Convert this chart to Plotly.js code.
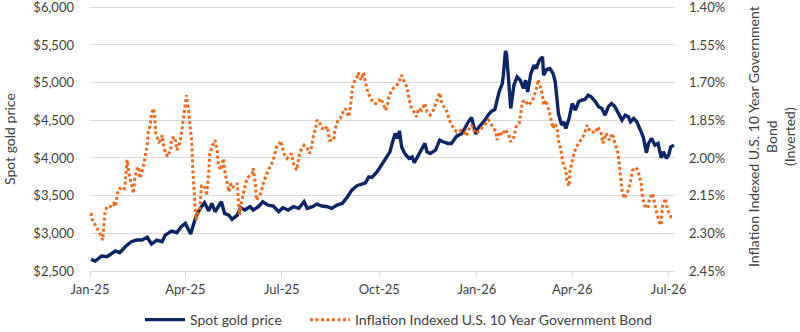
<!DOCTYPE html>
<html>
<head>
<meta charset="utf-8">
<script src="https://cdn.plot.ly/plotly-3.0.1.min.js"></script>
<style>
  html, body { margin: 0; padding: 0; background: #ffffff; }
  #chart { width: 800px; height: 332px; }
</style>
</head>
<body>
<div id="chart"></div>
<script>
// Spot gold price, USD per ounce
const goldDates = [
  '2025-01-02','2025-01-06','2025-01-12','2025-01-17','2025-01-25','2025-01-29','2025-02-04','2025-02-09',
  '2025-02-14','2025-02-19','2025-02-24','2025-02-28','2025-03-05','2025-03-10','2025-03-13','2025-03-19',
  '2025-03-24','2025-03-28','2025-04-01','2025-04-03','2025-04-06','2025-04-08','2025-04-11','2025-04-15',
  '2025-04-19','2025-04-23','2025-04-26','2025-04-29','2025-05-02','2025-05-05','2025-05-08','2025-05-12',
  '2025-05-15','2025-05-20','2025-05-23','2025-05-27','2025-06-01','2025-06-04','2025-06-09','2025-06-13',
  '2025-06-18','2025-06-23','2025-06-28','2025-07-02','2025-07-07','2025-07-12','2025-07-17','2025-07-22',
  '2025-07-25','2025-07-30','2025-08-03','2025-08-08','2025-08-13','2025-08-17','2025-08-22','2025-08-27',
  '2025-09-01','2025-09-05','2025-09-10','2025-09-14','2025-09-18','2025-09-21','2025-09-24','2025-09-29',
  '2025-10-03','2025-10-08','2025-10-11','2025-10-14','2025-10-16','2025-10-18','2025-10-20','2025-10-22',
  '2025-10-25','2025-10-29','2025-11-01','2025-11-03','2025-11-06','2025-11-10','2025-11-13','2025-11-15',
  '2025-11-18','2025-11-23','2025-11-27','2025-11-30','2025-12-05','2025-12-08','2025-12-13','2025-12-18',
  '2025-12-21','2025-12-24','2025-12-27','2025-12-29','2025-12-31','2026-01-02','2026-01-06','2026-01-09',
  '2026-01-12','2026-01-15','2026-01-18','2026-01-22','2026-01-25','2026-01-26','2026-01-28','2026-01-29',
  '2026-01-31','2026-02-02','2026-02-05','2026-02-08','2026-02-11','2026-02-14','2026-02-16','2026-02-18',
  '2026-02-21','2026-02-24','2026-02-26','2026-03-01','2026-03-04','2026-03-05','2026-03-08','2026-03-11',
  '2026-03-14','2026-03-16','2026-03-19','2026-03-22','2026-03-24','2026-03-26','2026-03-29','2026-04-01',
  '2026-04-04','2026-04-07','2026-04-10','2026-04-13','2026-04-16','2026-04-19','2026-04-23','2026-04-26',
  '2026-04-29','2026-05-02','2026-05-05','2026-05-08','2026-05-11','2026-05-15','2026-05-18','2026-05-21',
  '2026-05-24','2026-05-26','2026-05-29','2026-06-01','2026-06-04','2026-06-07','2026-06-10','2026-06-12',
  '2026-06-15','2026-06-18','2026-06-21','2026-06-24','2026-06-26','2026-06-29','2026-07-01','2026-07-03',
  '2026-07-06'
];
const goldPrice = [
  2654,2632,2699,2690,2765,2743,2831,2889,
  2911,2911,2947,2858,2911,2889,2977,3030,
  3008,3087,3132,3066,2990,3087,3220,3331,
  3406,3298,3397,3286,3353,3419,3264,3242,
  3185,3242,3344,3309,3353,3309,3353,3419,
  3375,3362,3286,3340,3309,3353,3331,3419,
  3331,3353,3388,3362,3353,3331,3375,3397,
  3485,3574,3631,3649,3671,3750,3742,3817,
  3905,4007,4082,4237,4325,4259,4360,4148,
  4060,3994,4015,3936,4015,4127,4193,4082,
  4060,4104,4237,4215,4193,4193,4290,4325,
  4405,4480,4538,4436,4316,4392,4458,4511,
  4577,4621,4643,4877,4988,5098,5421,5386,
  5032,4657,4966,5076,5032,4922,5032,4877,
  5120,5231,5187,5297,5341,5098,5174,5187,
  5120,5010,4591,4436,4480,4392,4524,4723,
  4634,4745,4767,4776,4833,4811,4745,4678,
  4657,4568,4678,4723,4687,4591,4502,4568,
  4546,4480,4524,4480,4369,4281,4069,4193,
  4259,4170,4193,4002,4082,3994,4038,4148,
  4170
];

// Inflation indexed U.S. 10-year government bond yield, percent
const bondDates = [
  '2025-01-02','2025-01-03','2025-01-06','2025-01-08','2025-01-10','2025-01-13','2025-01-14','2025-01-15',
  '2025-01-17','2025-01-20','2025-01-23','2025-01-25','2025-01-27','2025-01-29','2025-02-02','2025-02-03',
  '2025-02-05','2025-02-06','2025-02-07','2025-02-09','2025-02-11','2025-02-12','2025-02-14','2025-02-16',
  '2025-02-17','2025-02-20','2025-02-22','2025-02-24','2025-02-25','2025-02-27','2025-02-28','2025-03-02',
  '2025-03-03','2025-03-04','2025-03-07','2025-03-09','2025-03-10','2025-03-12','2025-03-15','2025-03-18',
  '2025-03-19','2025-03-22','2025-03-24','2025-03-27','2025-03-29','2025-03-30','2025-04-01','2025-04-02',
  '2025-04-04','2025-04-05','2025-04-07','2025-04-08','2025-04-10','2025-04-11','2025-04-15','2025-04-16',
  '2025-04-20','2025-04-21','2025-04-23','2025-04-24','2025-04-26','2025-04-29','2025-05-01','2025-05-02',
  '2025-05-04','2025-05-07','2025-05-08','2025-05-10','2025-05-12','2025-05-14','2025-05-16','2025-05-20',
  '2025-05-21','2025-05-22','2025-05-24','2025-05-27','2025-05-29','2025-06-03','2025-06-04','2025-06-06',
  '2025-06-07','2025-06-11','2025-06-14','2025-06-17','2025-06-20','2025-06-23','2025-06-26','2025-06-28',
  '2025-06-30','2025-07-03','2025-07-06','2025-07-10','2025-07-12','2025-07-15','2025-07-18','2025-07-22',
  '2025-07-25','2025-07-27','2025-07-29','2025-07-31','2025-08-02','2025-08-03','2025-08-06','2025-08-09',
  '2025-08-13','2025-08-15','2025-08-19','2025-08-20','2025-08-23','2025-08-25','2025-08-28','2025-08-30',
  '2025-09-02','2025-09-04','2025-09-05','2025-09-06','2025-09-08','2025-09-10','2025-09-11','2025-09-14',
  '2025-09-16','2025-09-18','2025-09-20','2025-09-23','2025-09-26','2025-09-29','2025-10-02','2025-10-04',
  '2025-10-07','2025-10-09','2025-10-10','2025-10-13','2025-10-16','2025-10-19','2025-10-22','2025-10-25',
  '2025-10-27','2025-10-29','2025-10-31','2025-11-02','2025-11-05','2025-11-07','2025-11-10','2025-11-13',
  '2025-11-15','2025-11-18','2025-11-21','2025-11-25','2025-11-27','2025-11-29','2025-12-02','2025-12-04',
  '2025-12-06','2025-12-08','2025-12-10','2025-12-13','2025-12-17','2025-12-20','2025-12-22','2025-12-24',
  '2025-12-27','2025-12-29','2026-01-01','2026-01-04','2026-01-08','2026-01-10','2026-01-12','2026-01-15',
  '2026-01-17','2026-01-19','2026-01-20','2026-01-22','2026-01-25','2026-01-28','2026-01-31','2026-02-02',
  '2026-02-05','2026-02-07','2026-02-10','2026-02-11','2026-02-13','2026-02-16','2026-02-18','2026-02-22',
  '2026-02-24','2026-02-26','2026-02-28','2026-03-02','2026-03-04','2026-03-05','2026-03-07','2026-03-10',
  '2026-03-12','2026-03-14','2026-03-16','2026-03-18','2026-03-19','2026-03-21','2026-03-23','2026-03-24',
  '2026-03-26','2026-03-27','2026-03-29','2026-03-30','2026-04-01','2026-04-03','2026-04-06','2026-04-09',
  '2026-04-12','2026-04-15','2026-04-18','2026-04-20','2026-04-23','2026-04-25','2026-04-28','2026-04-30',
  '2026-05-03','2026-05-06','2026-05-09','2026-05-11','2026-05-14','2026-05-15','2026-05-17','2026-05-18',
  '2026-05-20','2026-05-23','2026-05-26','2026-05-28','2026-05-31','2026-06-02','2026-06-05','2026-06-06',
  '2026-06-08','2026-06-11','2026-06-13','2026-06-16','2026-06-18','2026-06-20','2026-06-22','2026-06-24',
  '2026-06-25','2026-06-28','2026-06-30','2026-07-03','2026-07-06'
];
const bondYield = [
  2.218,2.244,2.267,2.280,2.298,2.327,2.274,2.220,
  2.194,2.194,2.181,2.194,2.141,2.121,2.128,2.108,
  2.008,2.035,2.068,2.101,2.141,2.088,2.048,2.035,
  2.081,2.041,2.002,1.949,1.896,1.863,1.823,1.803,
  1.836,1.902,1.936,1.929,1.909,1.962,1.995,1.969,
  1.922,1.916,1.969,1.936,1.882,1.849,1.803,1.750,
  1.810,1.863,1.936,2.048,2.168,2.247,2.194,2.108,
  2.121,2.150,2.061,1.982,1.956,1.929,1.969,2.022,
  2.048,2.002,2.048,2.088,2.134,2.101,2.115,2.101,
  2.154,2.227,2.174,2.121,2.081,2.061,2.041,2.101,
  2.168,2.141,2.095,2.061,2.035,2.008,1.956,1.949,
  1.932,1.982,2.002,1.982,2.022,2.048,1.976,1.949,
  1.962,1.982,1.956,1.909,1.882,1.849,1.863,1.889,
  1.875,1.929,1.929,1.889,1.849,1.843,1.816,1.803,
  1.836,1.790,1.743,1.710,1.690,1.677,1.660,1.690,
  1.660,1.703,1.737,1.763,1.783,1.783,1.763,1.777,
  1.810,1.783,1.757,1.727,1.717,1.703,1.670,1.701,
  1.717,1.763,1.797,1.810,1.836,1.803,1.810,1.783,
  1.816,1.829,1.810,1.763,1.741,1.783,1.805,1.816,
  1.849,1.869,1.882,1.896,1.889,1.896,1.913,1.889,
  1.869,1.889,1.902,1.889,1.869,1.863,1.849,1.869,
  1.882,1.896,1.929,1.896,1.909,1.886,1.909,1.936,
  1.916,1.876,1.863,1.829,1.777,1.770,1.790,1.777,
  1.757,1.730,1.688,1.723,1.750,1.790,1.770,1.810,
  1.849,1.882,1.863,1.889,1.929,1.962,2.015,2.028,
  2.050,2.090,2.112,2.048,2.008,1.976,1.949,1.929,
  1.909,1.869,1.896,1.896,1.900,1.876,1.896,1.942,
  1.902,1.929,1.902,1.936,1.976,2.008,2.075,2.128,
  2.161,2.141,2.095,2.048,2.038,2.048,2.101,2.148,
  2.187,2.201,2.161,2.141,2.187,2.220,2.254,2.267,
  2.194,2.161,2.207,2.234,2.234
];

// Axis ticks and their labels
const xTickDates = ['2025-01-01','2025-04-01','2025-07-01','2025-10-01','2026-01-01','2026-04-01','2026-07-01'];
const xTickLabels = ['Jan-25','Apr-25','Jul-25','Oct-25','Jan-26','Apr-26','Jul-26'];
const goldTicks = [2500, 3000, 3500, 4000, 4500, 5000, 5500, 6000];
const goldTickLabels = ['$2,500','$3,000','$3,500','$4,000','$4,500','$5,000','$5,500','$6,000'];
const bondTicks = [1.40, 1.55, 1.70, 1.85, 2.00, 2.15, 2.30, 2.45];
const bondTickLabels = ['1.40%','1.55%','1.70%','1.85%','2.00%','2.15%','2.30%','2.45%'];
const goldAxisTitle = 'Spot gold price';
const bondAxisTitle = 'Inflation Indexed U.S. 10 Year Government<br>Bond<br>(Inverted)';

const textColor = '#404040';
const gridColor = '#d9d9d9';
const fontFamily = 'Lato, "Open Sans", sans-serif';
const tickFont = { family: fontFamily, size: 13, color: textColor };
const titleFont = { family: fontFamily, size: 14, color: textColor };

const traces = [
  {
    type: 'scatter', mode: 'lines', name: 'Spot gold price',
    x: goldDates, y: goldPrice, yaxis: 'y',
    line: { color: '#0b2566', width: 3.4 },
    legendwidth: 110,
    hoverinfo: 'skip'
  },
  {
    type: 'scatter', mode: 'lines', name: 'Inflation Indexed U.S. 10 Year Government Bond',
    x: bondDates, y: bondYield, yaxis: 'y2',
    line: { color: '#f26a1b', width: 3, dash: '3px,2.5px' },
    hoverinfo: 'skip'
  }
];

// The top of the value range sits a little above $6,000 / 1.40% so that the
// top gridline is kept (Plotly drops gridlines lying on the very edge).
const layout = {
  width: 800, height: 332,
  margin: { l: 90, r: 125, t: 5, b: 61 },
  paper_bgcolor: '#ffffff', plot_bgcolor: '#ffffff',
  font: tickFont,
  showlegend: true,
  legend: {
    orientation: 'h', xref: 'container', x: 0.175, xanchor: 'left',
    yref: 'container', y: 0.036, yanchor: 'middle',
    font: titleFont, itemwidth: 40, tracegroupgap: 0
  },
  xaxis: {
    type: 'date', range: ['2025-01-01', '2026-07-07'],
    tickmode: 'array', tickvals: xTickDates, ticktext: xTickLabels,
    showgrid: false, zeroline: false,
    showline: true, linecolor: gridColor, linewidth: 1,
    ticks: 'outside', ticklen: 5, tickcolor: gridColor,
    ticklabelstandoff: 1,
    tickfont: tickFont
  },
  yaxis: {
    range: [2500, 6030],
    tickmode: 'array', tickvals: goldTicks, ticktext: goldTickLabels,
    ticklabeloverflow: 'allow',
    showgrid: true, gridcolor: gridColor, gridwidth: 1,
    zeroline: false, showline: false, ticks: '',
    ticklabelstandoff: 15,
    tickfont: tickFont
  },
  yaxis2: {
    overlaying: 'y', side: 'right',
    range: [2.45, 1.391],
    tickmode: 'array', tickvals: bondTicks, ticktext: bondTickLabels,
    ticklabeloverflow: 'allow',
    showgrid: false, zeroline: false, showline: false, ticks: '',
    ticklabelstandoff: 13,
    tickfont: tickFont
  },
  annotations: [
    {
      text: goldAxisTitle, textangle: -90, font: titleFont, showarrow: false,
      xref: 'paper', x: 0, xshift: -81, xanchor: 'center',
      yref: 'paper', y: 0.5, yshift: -1, yanchor: 'middle'
    },
    {
      text: bondAxisTitle, textangle: -90, font: titleFont, showarrow: false,
      xref: 'paper', x: 1, xshift: 96, xanchor: 'center',
      yref: 'paper', y: 0.5, yshift: 1, yanchor: 'middle'
    }
  ]
};

Plotly.newPlot('chart', traces, layout, { staticPlot: true, displayModeBar: false });
</script>
</body>
</html>
